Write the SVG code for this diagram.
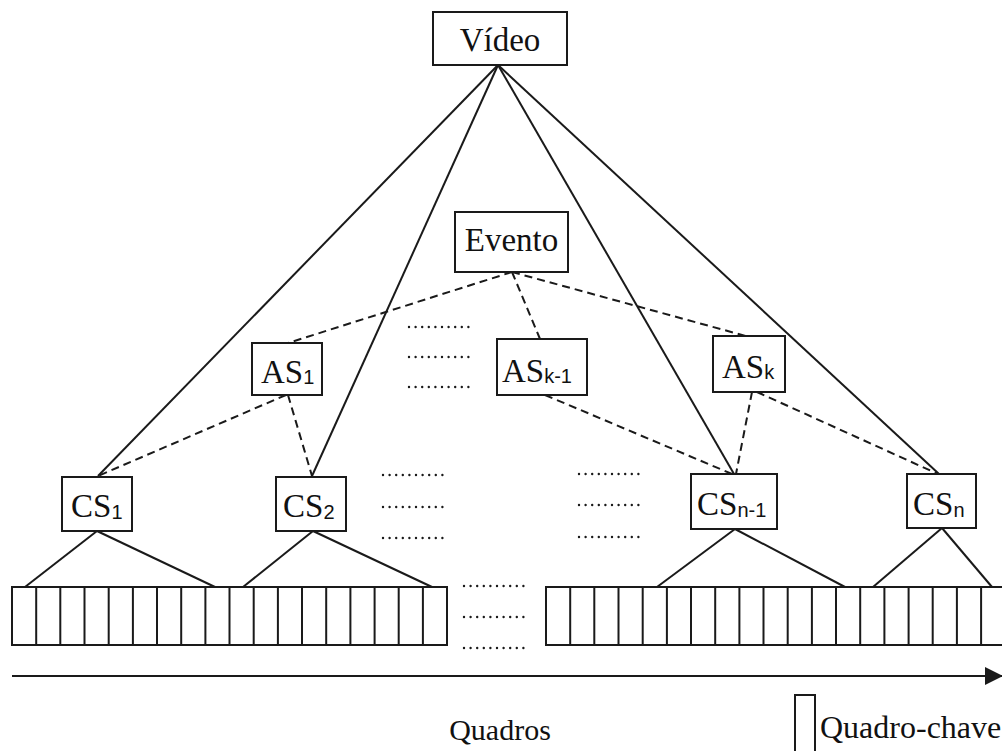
<svg xmlns="http://www.w3.org/2000/svg" width="1002" height="751" viewBox="0 0 1002 751">
<defs>
<style>
.box{fill:#fff;stroke:#1a1a1a;stroke-width:2}
.t{font-family:"Liberation Serif","Times New Roman",serif;font-size:33px;fill:#111}
.sub{font-family:"Liberation Sans",Arial,sans-serif;font-size:20px}
.solid{stroke:#1a1a1a;stroke-width:2;fill:none}
.dash{stroke:#1a1a1a;stroke-width:2;fill:none;stroke-dasharray:8 5}
.dots{stroke:#1a1a1a;stroke-width:2.4;stroke-linecap:round;stroke-dasharray:0 6.6;fill:none}
.strip{fill:#fff;stroke:#1a1a1a;stroke-width:2}
</style>
<marker id="ah" markerWidth="18" markerHeight="18" refX="17" refY="9" orient="auto" markerUnits="userSpaceOnUse">
<path d="M0,0 L18,9 L0,18 Z" fill="#1a1a1a"/>
</marker>
</defs>
<rect width="1002" height="751" fill="#fff"/>

<g id="connectors">
<line class="solid" x1="498" y1="65" x2="98" y2="476"/>
<line class="solid" x1="498" y1="65" x2="312" y2="476"/>
<line class="solid" x1="498" y1="65" x2="734" y2="474"/>
<line class="solid" x1="498" y1="65" x2="939" y2="474"/>
<line class="dash" x1="512" y1="272" x2="288" y2="343"/>
<line class="dash" x1="512" y1="272" x2="540" y2="339"/>
<line class="dash" x1="512" y1="272" x2="746" y2="336"/>
<line class="dash" x1="286" y1="395" x2="98" y2="476"/>
<line class="dash" x1="288" y1="395" x2="312" y2="476"/>
<line class="dash" x1="545" y1="395" x2="732" y2="474"/>
<line class="dash" x1="752" y1="392" x2="736" y2="474"/>
<line class="dash" x1="757" y1="392" x2="938" y2="474"/>
<line class="solid" x1="97" y1="531" x2="25" y2="587"/>
<line class="solid" x1="97" y1="531" x2="215" y2="587"/>
<line class="solid" x1="313" y1="531" x2="243" y2="587"/>
<line class="solid" x1="313" y1="531" x2="432" y2="587"/>
<line class="solid" x1="735" y1="529" x2="657" y2="587"/>
<line class="solid" x1="735" y1="529" x2="845" y2="587"/>
<line class="solid" x1="942" y1="528" x2="873" y2="587"/>
<line class="solid" x1="942" y1="528" x2="992" y2="587"/>
<line x1="12" y1="676" x2="1002" y2="676" stroke="#1a1a1a" stroke-width="2" marker-end="url(#ah)"/>
</g>

<g id="video">
<rect class="box" x="433" y="12" width="134" height="53"/>
<text class="t" x="500" y="51" text-anchor="middle">Vídeo</text>
</g>
<g id="evento">
<rect class="box" x="455" y="212" width="113" height="60"/>
<text class="t" x="511.5" y="251" text-anchor="middle">Evento</text>
</g>
<g id="as1">
<rect class="box" x="252" y="343" width="70" height="52"/>
<text class="t" x="261" y="383">AS<tspan class="sub" dy="1">1</tspan></text>
</g>
<g id="ask1">
<rect class="box" x="497" y="339" width="90" height="56"/>
<text class="t" x="502" y="382">AS<tspan class="sub" dy="1">k-1</tspan></text>
</g>
<g id="ask">
<rect class="box" x="713" y="336" width="72" height="56"/>
<text class="t" x="722" y="378">AS<tspan class="sub" dy="1">k</tspan></text>
</g>
<g id="cs1">
<rect class="box" x="62" y="477" width="70" height="54"/>
<text class="t" x="71" y="517">CS<tspan class="sub" dy="2">1</tspan></text>
</g>
<g id="cs2">
<rect class="box" x="276" y="477" width="70" height="54"/>
<text class="t" x="283" y="517">CS<tspan class="sub" dy="2">2</tspan></text>
</g>
<g id="csn1">
<rect class="box" x="691" y="474" width="86" height="55"/>
<text class="t" x="697" y="515">CS<tspan class="sub" dy="2">n-1</tspan></text>
</g>
<g id="csn">
<rect class="box" x="907" y="474" width="69" height="54"/>
<text class="t" x="913" y="515">CS<tspan class="sub" dy="2">n</tspan></text>
</g>

<g id="frames1">
<rect class="strip" x="12" y="587" width="435" height="58"/>
<path class="solid" d="M36.2,587V645M60.3,587V645M84.5,587V645M108.7,587V645M132.9,587V645M157,587V645M181.2,587V645M205.4,587V645M229.5,587V645M253.7,587V645M277.9,587V645M302,587V645M326.2,587V645M350.4,587V645M374.6,587V645M398.7,587V645M422.9,587V645"/>
</g>
<g id="frames2">
<rect class="strip" x="546" y="587" width="460" height="58"/>
<path class="solid" d="M570.2,587V645M594.3,587V645M618.5,587V645M642.7,587V645M666.9,587V645M691,587V645M715.2,587V645M739.4,587V645M763.5,587V645M787.7,587V645M811.9,587V645M836,587V645M860.2,587V645M884.4,587V645M908.6,587V645M932.7,587V645M956.9,587V645M981.1,587V645"/>
</g>

<g id="ellipses">
<line class="dots" x1="409" y1="327" x2="470" y2="327"/>
<line class="dots" x1="409" y1="357" x2="470" y2="357"/>
<line class="dots" x1="409" y1="387" x2="470" y2="387"/>
<line class="dots" x1="383" y1="475" x2="447" y2="475"/>
<line class="dots" x1="383" y1="507" x2="447" y2="507"/>
<line class="dots" x1="383" y1="538" x2="447" y2="538"/>
<line class="dots" x1="579" y1="474" x2="643" y2="474"/>
<line class="dots" x1="579" y1="505" x2="643" y2="505"/>
<line class="dots" x1="579" y1="537" x2="643" y2="537"/>
<line class="dots" x1="464" y1="586" x2="528" y2="586"/>
<line class="dots" x1="464" y1="617" x2="528" y2="617"/>
<line class="dots" x1="464" y1="648" x2="528" y2="648"/>
</g>

<g id="labels">
<text class="t" x="500" y="740" text-anchor="middle" style="font-size:30px">Quadros</text>
</g>
<g id="legend">
<rect class="strip" x="795" y="695" width="20" height="62"/>
<text class="t" x="820" y="738" style="font-size:32px">Quadro-chave</text>
</g>
</svg>
